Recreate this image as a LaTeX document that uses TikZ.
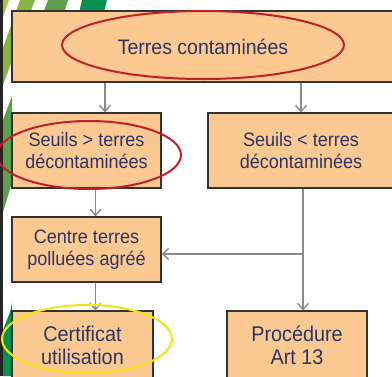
\documentclass[tikz,border=0pt]{standalone}
\usepackage{fontspec}
\setmainfont{Liberation Sans}[FakeStretch=0.93]
\usetikzlibrary{arrows.meta}
\definecolor{boxfill}{HTML}{FCC993}
\definecolor{boxline}{HTML}{333333}
\definecolor{boxtext}{HTML}{2C3563}
\definecolor{flowgray}{HTML}{8A8A8A}
\definecolor{ringred}{HTML}{C0202A}
\definecolor{ringyellow}{HTML}{F0E612}
\definecolor{leafA}{HTML}{A6C63F}
\definecolor{leafB}{HTML}{88B542}
\definecolor{leafC}{HTML}{5DA14F}
\definecolor{leafD}{HTML}{08904F}
\definecolor{edgedark}{HTML}{262424}
\tikzset{
  box/.style={draw=boxline,fill=boxfill,text=boxtext,line width=1.2pt,align=center,inner sep=0pt},
  flow/.style={draw=flowgray,line width=1.4pt,-{Straight Barb[length=6pt,width=11pt]}},
  ring/.style={line width=2pt}
}
\begin{document}
\begin{tikzpicture}[x=1pt,y=-1pt]
  \clip (0,0) rectangle (392,376);
  \fill[white] (0,0) rectangle (392,376);
  % background stripes, only in the top band and the left margin
  \begin{scope}
    \clip (0,0) rectangle (392,11) (0,11) rectangle (12,376);
    \fill[leafA] (3,0) -- (9,0) -- (3,17) -- cycle;
    \fill[leafB] (20,0) -- (35,0) -- (3,85) -- (3,48) -- cycle;
    \fill[leafC] (48,0) -- (68,0) -- (3,212) -- (3,120) -- cycle;
    \fill[leafD] (82,0) -- (107,0) -- (12,376) -- (3,376) -- (3,330) -- (10,312) -- cycle;
  \end{scope}
  \fill[edgedark] (0,0) rectangle (3,376);

  % boxes
  \node[box,minimum width=382,minimum height=71,font=\fontsize{21}{25}\selectfont] (terres) at (203,46.5) {Terres contaminées};
  \node[box,minimum width=149,minimum height=75,font=\fontsize{19.4}{22}\selectfont] (seuilsSup) at (86.5,150.5) {Seuils > terres\\décontaminées};
  \node[box,minimum width=186,minimum height=75,font=\fontsize{19.4}{22}\selectfont] (seuilsInf) at (301,150.5) {Seuils < terres\\décontaminées};
  \node[box,minimum width=149,minimum height=65,font=\fontsize{19.4}{22}\selectfont] (centre) at (86.5,249.5) {Centre terres\\polluées agréé};
  \node[box,minimum width=141,minimum height=68,font=\fontsize{21.3}{23}\selectfont] (certificat) at (82.5,345) {Certificat\\utilisation};
  \node[box,minimum width=140,minimum height=68,font=\fontsize{21.3}{23}\selectfont] (procedure) at (297,345) {Procédure\\Art 13};

  % connectors
  \draw[flow] ([xshift=18.5pt]seuilsSup.north |- terres.south) -- ([xshift=18.5pt]seuilsSup.north);
  \draw[flow] (terres.south -| seuilsInf.north) -- (seuilsInf.north);
  \draw[flow] ([xshift=9pt]seuilsSup.south) -- ([xshift=9pt]centre.north);
  \draw[flow] ([xshift=9pt]centre.south) -- ([xshift=9pt]centre.south |- certificat.north);
  \draw[flow] ([xshift=2pt]seuilsInf.south) -- ([xshift=2pt]seuilsInf.south |- procedure.north);
  \coordinate (fork) at ([xshift=2pt,yshift=-4.5pt]seuilsInf.south |- centre.east);
  \draw[flow] (fork) -- ([yshift=-4.5pt]centre.east);

  % highlights
  \draw[ring,ringred] (203,45) ellipse [x radius=141pt, y radius=34pt];
  \draw[ring,ringred] (89,155) ellipse [x radius=92pt, y radius=34pt];
  \draw[ring,ringyellow] (87,339) ellipse [x radius=85pt, y radius=34pt];
\end{tikzpicture}
\end{document}
